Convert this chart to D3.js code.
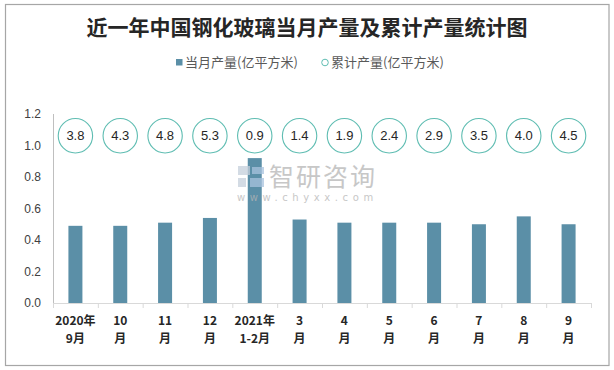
<!DOCTYPE html>
<html><head><meta charset="utf-8">
<script src="https://cdn.jsdelivr.net/npm/d3@7"></script>
<style>
html,body{margin:0;padding:0;background:#fff;}
svg{display:block;}
</style></head>
<body>
<svg id="chart" width="614" height="370"></svg>
<script>
const title = "近一年中国钢化玻璃当月产量及累计产量统计图";
const categories = ["2020年|9月","10|月","11|月","12|月","2021年|1-2月","3|月","4|月","5|月","6|月","7|月","8|月","9|月"];
const monthly = [0.49,0.49,0.51,0.54,0.92,0.53,0.51,0.51,0.51,0.50,0.55,0.50];
const cumulative = [3.8,4.3,4.8,5.3,0.9,1.4,1.9,2.4,2.9,3.5,4.0,4.5];
const yTicks = [0,0.2,0.4,0.6,0.8,1.0,1.2];
const seriesNames = ["当月产量(亿平方米)","累计产量(亿平方米)"];

const svg = d3.select("#chart");
const barColor = "#5b8fa7", circColor = "#5fbdb2";
const font = "'Noto Sans CJK SC','Liberation Sans',sans-serif";

svg.append("rect").attr("x",5.5).attr("y",4.5).attr("width",603.5).attr("height",361)
  .attr("fill","#fff").attr("stroke","#a6a6a6").attr("stroke-width",1.2);

svg.append("text").attr("x",307).attr("y",35).attr("text-anchor","middle")
  .attr("font-family","'Noto Sans CJK SC',sans-serif").attr("font-weight","bold")
  .attr("font-size",21).attr("fill","#262626").text(title);

// legend
const lg = svg.append("g").attr("font-family",font).attr("font-size",13).attr("fill","#595959");
lg.append("rect").attr("x",176).attr("y",59).attr("width",6.5).attr("height",6.5).attr("fill",barColor);
lg.append("text").attr("x",185).attr("y",67).text(seriesNames[0]);
lg.append("circle").attr("cx",325).attr("cy",62.5).attr("r",3.3).attr("fill","none").attr("stroke",circColor).attr("stroke-width",1);
lg.append("text").attr("x",331).attr("y",67).text(seriesNames[1]);

const x0 = 53, x1 = 591, yTop = 114, yBot = 303;
const x = d3.scaleBand().domain(categories).range([x0,x1]).paddingInner(0).paddingOuter(0);
const y = d3.scaleLinear().domain([0,1.2]).range([yBot,yTop]);

// axes
svg.append("line").attr("x1",x0+0.5).attr("x2",x0+0.5).attr("y1",yTop).attr("y2",yBot)
  .attr("stroke","#bfbfbf").attr("stroke-width",1);
const yl = svg.append("g").attr("font-family","'Liberation Sans',Arial,sans-serif").attr("font-size",12).attr("fill","#404040");
yl.selectAll("text").data(yTicks).join("text")
  .attr("x",41).attr("y",d=>y(d)+4).attr("text-anchor","end").text(d=>d.toFixed(1));

// bars
const bw = 14;
svg.append("g").selectAll("rect").data(monthly).join("rect")
  .attr("x",(d,i)=>x(categories[i])+x.bandwidth()/2-bw/2).attr("width",bw)
  .attr("y",d=>y(d)).attr("height",d=>yBot-y(d)).attr("fill",barColor);

// watermark (over bars, translucent)
const wm = svg.append("g").attr("opacity",0.75);
wm.append("rect").attr("x",238).attr("y",166).attr("width",12).attr("height",9).attr("fill","#c5cfdc");
wm.append("rect").attr("x",238).attr("y",178).attr("width",8).attr("height",9).attr("fill","#c5cfdc");
wm.append("rect").attr("x",252).attr("y",167).attr("width",12).attr("height",7).attr("fill","#a9c3de");
wm.append("rect").attr("x",250).attr("y",178).attr("width",14).attr("height",9).attr("fill","#a9c3de");
wm.append("text").attr("x",269).attr("y",186).attr("font-family","'Noto Sans CJK SC',sans-serif")
  .attr("font-size",25).attr("letter-spacing",2).attr("fill","#b5b5b5").text("智研咨询");
wm.append("text").attr("x",237).attr("y",201).attr("font-family","'DejaVu Sans',sans-serif")
  .attr("font-size",10).attr("letter-spacing",4.6).attr("fill","#b5b5b5").text("www.chyxx.com");

// x axis line
svg.append("line").attr("x1",x0).attr("x2",x1).attr("y1",yBot+0.5).attr("y2",yBot+0.5)
  .attr("stroke","#d9d9d9").attr("stroke-width",1);
const tickPos = categories.map(c=>x(c)).concat([x1]);
svg.append("g").selectAll("line").data(tickPos).join("line")
  .attr("x1",d=>d+0.5).attr("x2",d=>d+0.5).attr("y1",yBot).attr("y2",yBot+5)
  .attr("stroke","#d9d9d9");

// x labels
const xl = svg.append("g").attr("font-family","'Noto Sans CJK SC',sans-serif").attr("font-weight","bold")
  .attr("font-size",12).attr("fill","#262626").attr("text-anchor","middle");
categories.forEach((c,i)=>{
  const parts = c.split("|");
  const cx = x(c)+x.bandwidth()/2;
  xl.append("text").attr("x",cx).attr("y",325).text(parts[0]);
  xl.append("text").attr("x",cx).attr("y",343).text(parts[1]);
});

// cumulative bubbles
const bub = svg.append("g");
const by = y(1.062);
cumulative.forEach((v,i)=>{
  const cx = x(categories[i])+x.bandwidth()/2;
  bub.append("circle").attr("cx",cx).attr("cy",by).attr("r",17.2)
    .attr("fill","#fff").attr("stroke",circColor).attr("stroke-width",1.1);
  bub.append("text").attr("x",cx).attr("y",by+4.5).attr("text-anchor","middle")
    .attr("font-family","'Liberation Sans',Arial,sans-serif").attr("font-size",13).attr("fill","#262626")
    .text(v.toFixed(1));
});
</script>
</body></html>
